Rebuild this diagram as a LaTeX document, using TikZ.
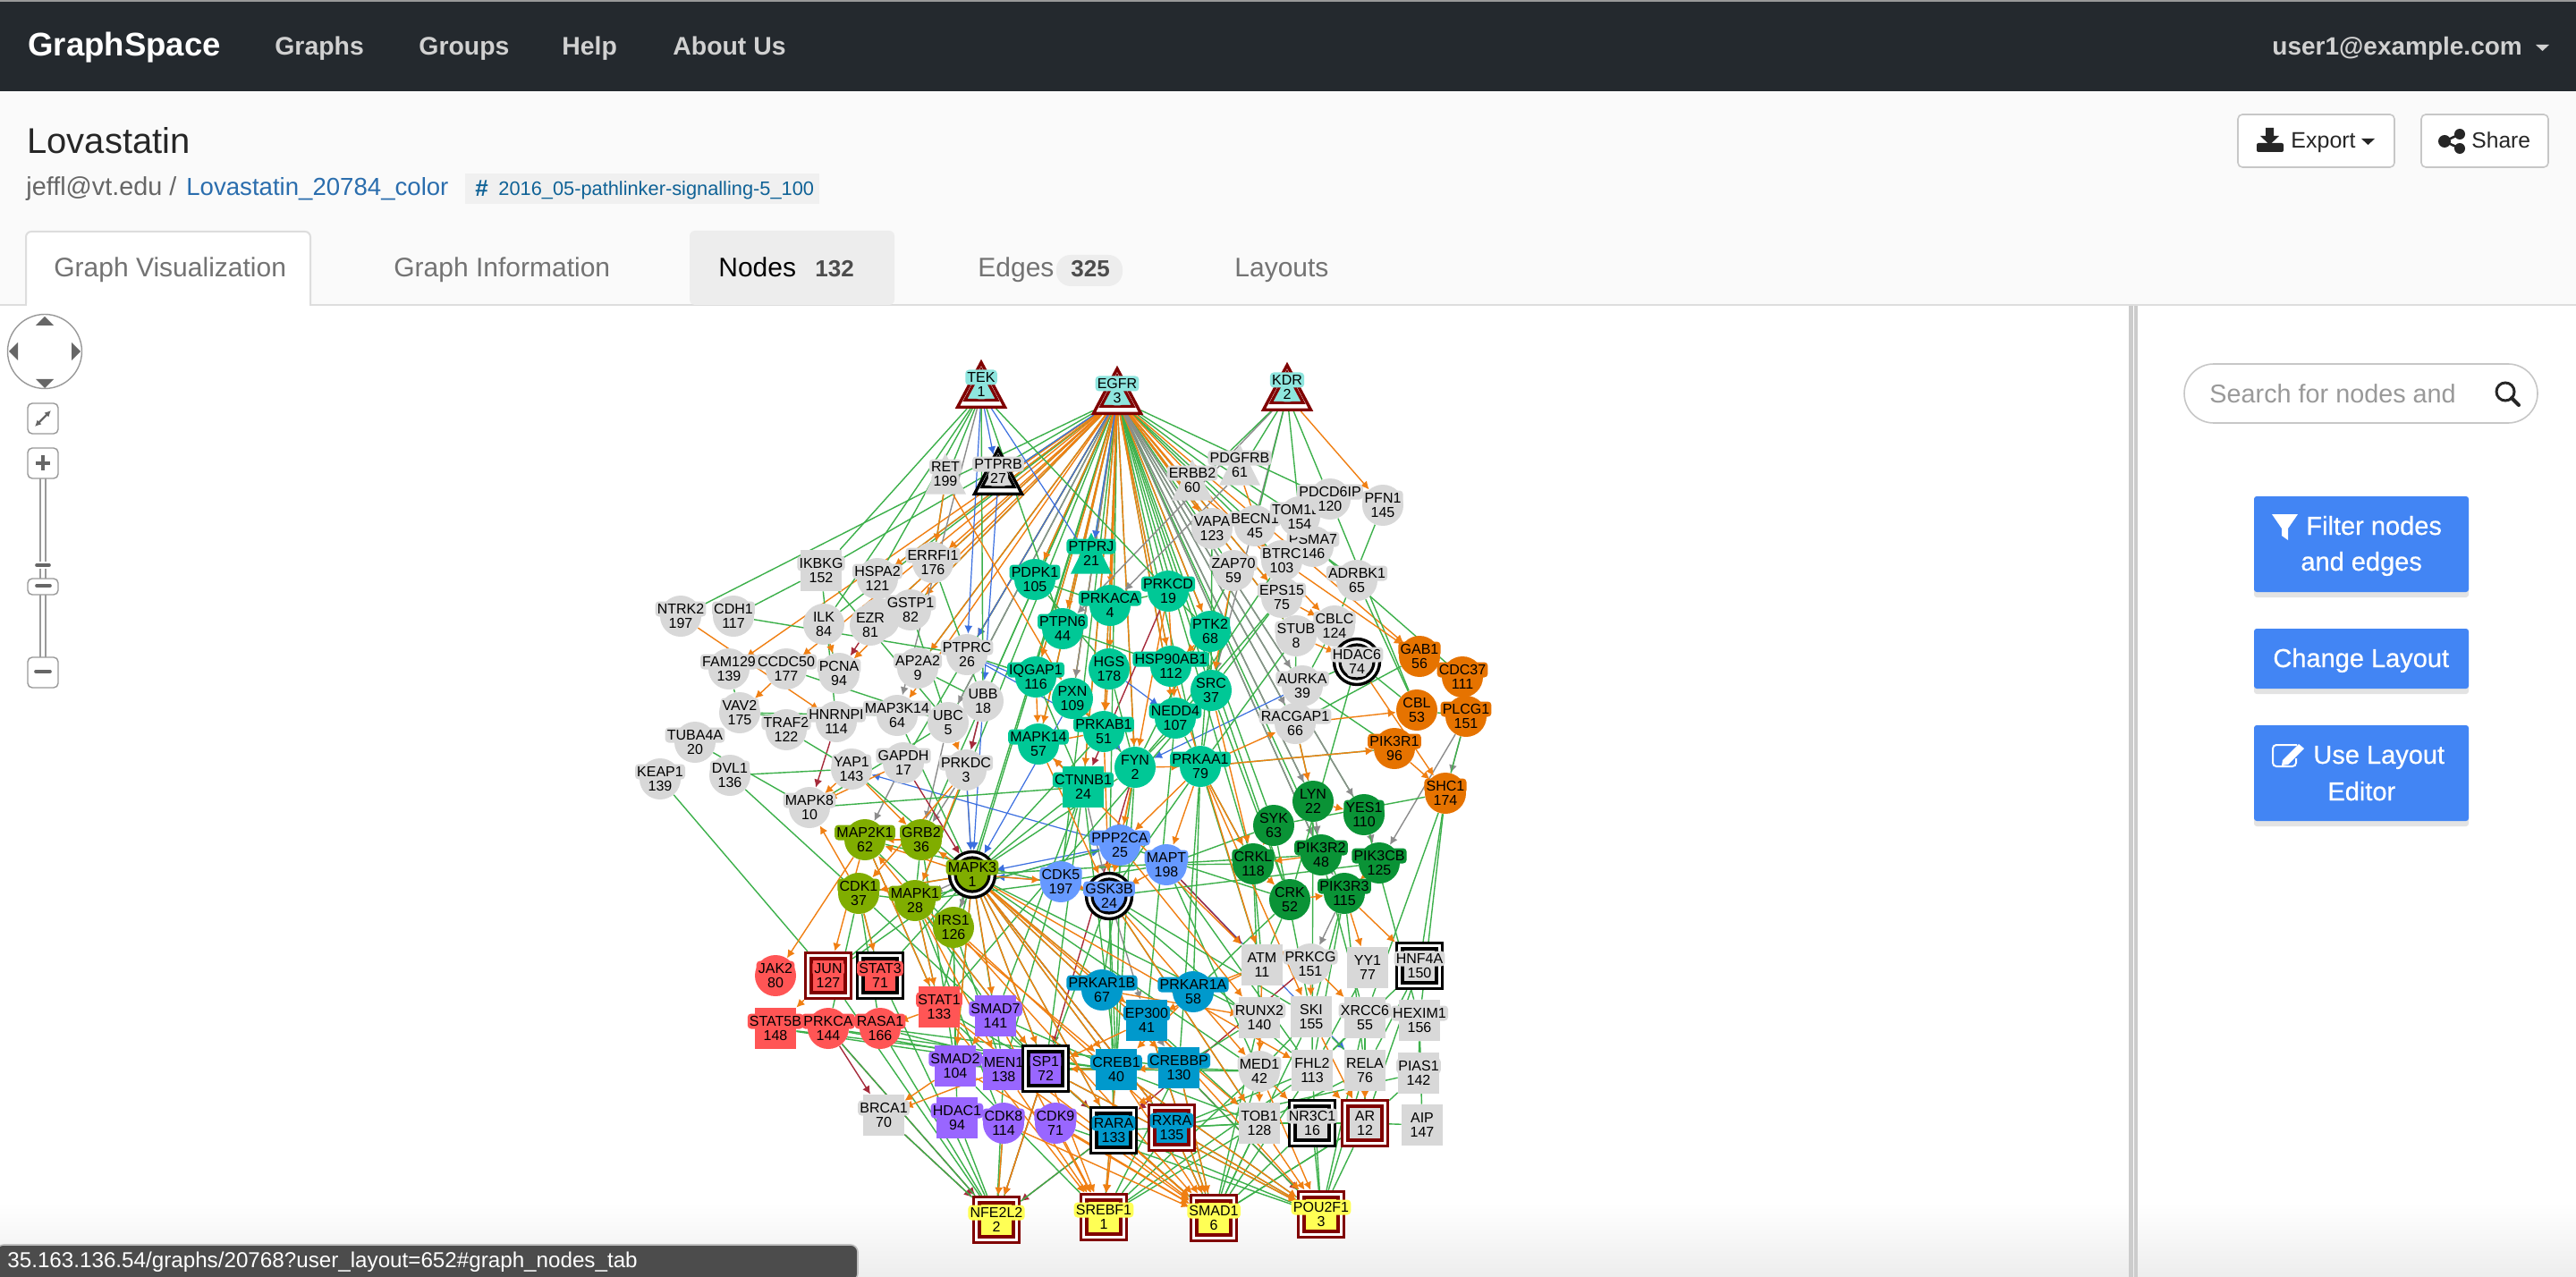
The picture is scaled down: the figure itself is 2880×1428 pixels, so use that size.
\documentclass[tikz,border=0pt]{standalone}
\usepackage{fontspec}
\setmainfont{Liberation Sans}
\newfontfamily\medf[FakeBold=0.6]{Liberation Sans}
\usetikzlibrary{shadows,arrows.meta,shapes.geometric}
\pgfdeclarelayer{bg}
\pgfdeclarelayer{edges}
\pgfsetlayers{bg,edges,main}

\definecolor{navbar}{HTML}{24292E}
\definecolor{pagehead}{HTML}{FAFAFA}
\definecolor{rulegray}{HTML}{DDDDDD}
\definecolor{btnblue}{HTML}{4285F4}
\definecolor{linkblue}{HTML}{2A6DAD}
\definecolor{tagblue}{HTML}{0F6296}
\definecolor{ctlgray}{HTML}{999999}
\definecolor{ctldark}{HTML}{666666}
\definecolor{ngray}{HTML}{D8D8D8}
\definecolor{nrecep}{HTML}{8EE5DE}
\definecolor{nteal}{HTML}{00C896}
\definecolor{ndgreen}{HTML}{0A9336}
\definecolor{nolive}{HTML}{80AD00}
\definecolor{nperi}{HTML}{6699FF}
\definecolor{ncyan}{HTML}{0099CC}
\definecolor{nred}{HTML}{FF5555}
\definecolor{npurple}{HTML}{9966FF}
\definecolor{norange}{HTML}{E67300}
\definecolor{nyellow}{HTML}{FFFF55}
\definecolor{frred}{HTML}{800000}
\definecolor{egreen}{HTML}{3CB04A}
\definecolor{eorange}{HTML}{F07F12}
\definecolor{eblue}{HTML}{3B6FE0}
\definecolor{egray}{HTML}{8C8C8C}
\definecolor{ebrown}{HTML}{A52A3A}

\tikzset{
  gcirc/.style={circle,minimum size=23pt,inner sep=0pt},
  gsq/.style={rectangle,minimum size=23pt,inner sep=0pt},
  gtri/.style={isosceles triangle,isosceles triangle stretches,shape border rotate=90,
    minimum width=23pt,minimum height=23pt,inner sep=0pt,anchor=lower side,yshift=-11.5pt},
  gcircout/.style={circle,minimum size=25.5pt,inner sep=0pt,line width=1.7pt,fill=white},
  gcircin/.style={circle,minimum size=19pt,inner sep=0pt,line width=1.6pt},
  gsqout/.style={rectangle,minimum size=25.5pt,inner sep=0pt,line width=1.7pt,fill=white},
  gsqin/.style={rectangle,minimum size=19pt,inner sep=0pt,line width=1.6pt},
  gtriout/.style={isosceles triangle,isosceles triangle stretches,shape border rotate=90,
    minimum width=26.5pt,minimum height=25pt,inner sep=0pt,line width=1.7pt,fill=white,
    anchor=lower side,yshift=-13.5pt},
  gtriin/.style={isosceles triangle,isosceles triangle stretches,shape border rotate=90,
    minimum width=18pt,minimum height=17pt,inner sep=0pt,line width=1.6pt,
    anchor=lower side,yshift=-9.5pt},
  lbl/.style={inner sep=1.1pt,rounded corners=2pt,font=\fontsize{8}{9}\selectfont,text=black,
    text height=6pt,text depth=0.3pt},
  eg/.style={egreen,line width=0.7pt},
  eo/.style={eorange,line width=0.7pt,-{Latex[length=4.5pt,width=4.5pt]}},
  eb/.style={eblue,line width=0.6pt,-{Latex[length=4.5pt,width=4.5pt]}},
  ey/.style={egray,line width=0.7pt,-{Latex[length=4.5pt,width=4.5pt]}},
  er/.style={ebrown,line width=0.7pt,-{Latex[length=4.5pt,width=4.5pt]}},
  ui/.style={inner sep=0pt,anchor=base west},
  ctl/.style={draw=ctlgray,line width=0.7pt,rounded corners=2.5pt,fill=white},
  bluebtn/.style={fill=btnblue,rounded corners=1.5pt,
    drop shadow={opacity=0.22,shadow xshift=0pt,shadow yshift=-3pt}},
}

% plain node: style, name, x, y, colour, label, number
\newcommand{\gnode}[7]{
  \node[#1,fill=#5] (#2) at (#3,#4) {};
  \node[lbl,fill=#5,yshift=4pt] (#2-a) at (#3,#4) {#6};
  \node[lbl,fill=#5,yshift=-4pt] (#2-b) at (#3,#4) {#7};
}
% framed node: shape, name, x, y, colour, frame colour, label, number
\newcommand{\gframe}[8]{
  \node[#1out,draw=#6] (#2) at (#3,#4) {};
  \node[#1in,draw=#6,fill=#5] (#2-i) at (#3,#4) {};
  \node[lbl,fill=#5,yshift=4pt] (#2-a) at (#3,#4) {#7};
  \node[lbl,fill=#5,yshift=-4pt] (#2-b) at (#3,#4) {#8};
}

\begin{document}
\begin{tikzpicture}[x=0.5pt,y=-0.5pt]
  \useasboundingbox (0,0) rectangle (2880,1428);

  \begin{pgfonlayer}{bg}
    \fill[white] (0,0) rectangle (2880,1428);
    \fill[ctlgray] (0,0) rectangle (2880,2);
    \fill[navbar] (0,2) rectangle (2880,102);
    \fill[pagehead] (0,102) rectangle (2880,341);
    \fill[rulegray] (0,340) rectangle (2880,342);
    \shade[top color=white,bottom color=black!7] (0,1345) rectangle (2880,1428);
  \end{pgfonlayer}

  % top bar
  \node[ui,text=white,font=\fontsize{18.3}{20}\bfseries\selectfont] (brand) at (31,63) {GraphSpace};
  \foreach \n/\x/\t in {navg/307/Graphs, navr/468/Groups, navh/628/Help, nava/752/About Us}
    \node[ui,text=black!18,font=\fontsize{14.2}{17}\bfseries\selectfont] (\n) at (\x,62) {\t};
  \node[ui,text=black!18,font=\fontsize{14}{17}\bfseries\selectfont] (user) at (2540,62) {user1@example.com};
  \fill[black!18] (2835,50) -- (2850,50) -- (2842.5,57) -- cycle;

  % page head
  \node[ui,text=black!85,font=\fontsize{20}{24}\selectfont] (title) at (30,172) {Lovastatin};
  \node[ui,text=black!60,font=\fontsize{14.4}{17}\selectfont] (owner) at (29,219) {jeffl@vt.edu /};
  \node[ui,text=linkblue,font=\fontsize{13.8}{17}\selectfont] (gname) at (208,219) {Lovastatin\_20784\_color};
  \fill[black!6] (520,194) rectangle (916,228);
  \node[ui,text=tagblue,font=\fontsize{13}{13}\bfseries\selectfont] (hash) at (531,220) {\#};
  \node[ui,text=tagblue,font=\fontsize{10.9}{13}\selectfont] (tag) at (557,219) {2016\_05-pathlinker-signalling-5\_100};

  % tabs
  \filldraw[fill=white,draw=rulegray,line width=1pt,rounded corners=3pt] (29,342) -- (29,259) -- (347,259) -- (347,342);
  \fill[white] (30,339) rectangle (346,344);
  \fill[black!7,rounded corners=3pt] (771,341) -- (771,258) -- (1000,258) -- (1000,341) -- cycle;
  \fill[black!7,rounded corners=8pt] (1181,285) rectangle (1255,320);
  \foreach \n/\x/\t in {tabv/60/Graph Visualization, tabi/440/Graph Information, tabe/1093/Edges, tabl/1380/Layouts}
    \node[ui,text=black!55,font=\fontsize{15}{18}\selectfont] (\n) at (\x,310) {\t};
  \node[ui,text=black,font=\fontsize{15}{18}\selectfont] (tabn) at (803,310) {Nodes};
  \node[ui,text=black!70,font=\fontsize{13}{18}\bfseries\selectfont] (tabc) at (911,310) {132};
  \node[ui,text=black!70,font=\fontsize{13}{18}\bfseries\selectfont] (tabd) at (1197,310) {325};

  % export and share
  \filldraw[fill=white,draw=black!22,line width=0.8pt,rounded corners=2.5pt] (2502,128) rectangle (2677,187);
  \filldraw[fill=white,draw=black!22,line width=0.8pt,rounded corners=2.5pt] (2707,128) rectangle (2849,187);
  \node[ui,text=black!85,font=\fontsize{12.5}{15}\selectfont] (export) at (2561,166) {Export};
  \node[ui,text=black!85,font=\fontsize{12.3}{15}\selectfont] (share) at (2763,166) {Share};
  \fill[black!85] (2640,155) -- (2655,155) -- (2647.5,162) -- cycle;
  \fill[black!85] (2533,143) -- (2542,143) -- (2542,152) -- (2548,152) -- (2537.5,162) -- (2527,152) -- (2533,152) -- cycle;
  \fill[black!85,rounded corners=1pt] (2523,160) rectangle (2553,170);
  \draw[black!85,line width=1.3pt] (2733,158) -- (2750,150) (2733,158) -- (2750,166);
  \fill[black!85] (2733,158) circle (7) (2750,150) circle (6) (2750,166) circle (6);

  % side panel
  \fill[black!20] (2380,342) rectangle (2385,1428);
  \fill[black!20] (2386,342) rectangle (2390,1428);
  \draw[black!22,line width=0.8pt,rounded corners=16.5pt,fill=white] (2442,407) rectangle (2837,473);
  \node[ui,text=black!40,font=\fontsize{14.4}{17}\selectfont] (search) at (2470,451) {Search for nodes and};
  \draw[black!85,line width=1.5pt] (2801,438) circle (10);
  \draw[black!85,line width=2pt,line cap=round] (2808,445) -- (2816,453);

  \path[bluebtn] (2520,555) rectangle (2760,662);
  \path[bluebtn] (2520,703) rectangle (2760,770);
  \path[bluebtn] (2520,811) rectangle (2760,918);
  \foreach \n/\x/\y/\t in {bfa/2578/598/Filter nodes, bfb/2572/638/and edges, bch/2541/746/Change Layout,
      bua/2586/854/Use Layout, bub/2602/895/Editor}
    \node[ui,text=white,font=\fontsize{14.5}{17}\medf\selectfont] (\n) at (\x,\y) {\t};
  \fill[white] (2540,575) -- (2569,575) -- (2558,591) -- (2558,604) -- (2551,599) -- (2551,591) -- cycle;
  \draw[white,line width=1pt,rounded corners=2pt] (2568,833) -- (2541,833) -- (2541,857) -- (2567,857) -- (2567,848);
  \fill[white] (2552,850) -- (2570,832) -- (2576,837) -- (2558,855) -- (2551,856) -- cycle;

  % pan and zoom control
  \draw[ctl,rounded corners=0pt] (50,393) circle (41.5);
  \fill[ctldark] (50,354) -- (60,364) -- (40,364) -- cycle;
  \fill[ctldark] (50,434) -- (60,424) -- (40,424) -- cycle;
  \fill[ctldark] (10,393) -- (20,383) -- (20,403) -- cycle;
  \fill[ctldark] (90,393) -- (80,383) -- (80,403) -- cycle;
  \draw[ctlgray,line width=0.7pt] (45,535) -- (45,735) (51,535) -- (51,735);
  \draw[ctl] (31,451) rectangle (65,485);
  \draw[ctl] (31,501) rectangle (65,535);
  \draw[ctl] (31,647) rectangle (65,665);
  \draw[ctl] (31,735) rectangle (65,769);
  \fill[white] (43,628) rectangle (53,636);
  \draw[ctldark,line width=1.2pt,{Latex[length=3.5pt,width=3.5pt]}-{Latex[length=3.5pt,width=3.5pt]}] (39,477) -- (57,459);
  \draw[ctldark,line width=2pt] (40,517.5) -- (56,517.5) (48,509) -- (48,526);
  \draw[ctldark,line width=1.8pt,line cap=round] (41,632) -- (55,632) (41,655) -- (56,655) (40,751) -- (56,751);

  % gray nodes, upper half
  \gnode{gtri}{ret}{1057}{530}{ngray}{RET}{199}
  \gframe{gtri}{ptprb}{1116}{527}{ngray}{black}{PTPRB}{27}
  \gnode{gsq}{ikbkg}{918}{638}{ngray}{IKBKG}{152}
  \gnode{gtri}{pdgfrb}{1386}{520}{ngray}{PDGFRB}{61}
  \gnode{gtri}{erbb2}{1333}{537}{ngray}{ERBB2}{60}
  \node[gcirc,fill=ngray] (hidn) at (983,692) {};
  \foreach \n/\x/\y/\l/\k in {
      hspa2/981/647/HSPA2/121, errfi1/1043/629/ERRFI1/176, ntrk2/761/689/NTRK2/197, cdh1/820/689/CDH1/117,
      ilk/921/698/ILK/84, gstp1/1018/682/GSTP1/82, ezr/973/699/EZR/81, fam129/815/748/FAM129/139,
      ccdc50/879/748/CCDC50/177, pcna/938/753/PCNA/94, ap2a2/1026/747/AP2A2/9, ptprc/1081/732/PTPRC/26,
      ubb/1099/784/UBB/18, vav2/827/797/VAV2/175, traf2/879/816/TRAF2/122, hnrnpi/935/807/HNRNPI/114,
      map3k14/1003/800/MAP3K14/64, ubc/1060/808/UBC/5, tuba4a/777/830/TUBA4A/20, keap1/738/871/KEAP1/139,
      dvl1/816/867/DVL1/136, yap1/952/860/YAP1/143, gapdh/1010/853/GAPDH/17, prkdc/1080/861/PRKDC/3,
      mapk8/905/903/MAPK8/10, vapa/1355/591/VAPA/123, becn1/1403/588/BECN1/45, psma7/1468/611/PSMA7/146,
      tom1l1/1453/578/TOM1L1/154, pdcd6ip/1487/558/PDCD6IP/120, pfn1/1546/565/PFN1/145, btrc/1433/627/BTRC/103,
      zap70/1379/638/ZAP70/59, adrbk1/1517/649/ADRBK1/65, eps15/1433/668/EPS15/75, stub/1449/711/STUB/8,
      cblc/1492/700/CBLC/124, aurka/1456/767/AURKA/39, racgap1/1448/809/RACGAP1/66}
    {\gnode{gcirc}{\n}{\x}{\y}{ngray}{\l}{\k}}
  \gframe{gcirc}{hdac6}{1517}{740}{ngray}{black}{HDAC6}{74}

  % receptors
  \gframe{gtri}{tek}{1097}{430}{nrecep}{frred}{TEK}{1}
  \gframe{gtri}{egfr}{1249}{437}{nrecep}{frred}{EGFR}{3}
  \gframe{gtri}{kdr}{1439}{433}{nrecep}{frred}{KDR}{2}

  % teal group
  \gnode{gtri}{ptprj}{1220}{619}{nteal}{PTPRJ}{21}
  \gnode{gsq}{ctnnb1}{1211}{880}{nteal}{CTNNB1}{24}
  \foreach \n/\x/\y/\l/\k in {
      pdpk1/1157/648/PDPK1/105, ptpn6/1188/703/PTPN6/44, iqgap1/1158/757/IQGAP1/116, pxn/1199/781/PXN/109,
      prkcd/1306/661/PRKCD/19, prkaca/1241/677/PRKACA/4, ptk2/1353/706/PTK2/68, hgs/1240/748/HGS/178,
      hsp90ab1/1309/745/HSP90AB1/112, src/1354/772/SRC/37, nedd4/1314/803/NEDD4/107, prkab1/1234/818/PRKAB1/51,
      fyn/1269/858/FYN/2, prkaa1/1342/857/PRKAA1/79, mapk14/1161/832/MAPK14/57}
    {\gnode{gcirc}{\n}{\x}{\y}{nteal}{\l}{\k}}

  % orange group
  \foreach \n/\x/\y/\l/\k in {
      gab1/1587/734/GAB1/56, cdc37/1635/757/CDC37/111, cbl/1584/794/CBL/53, plcg1/1639/801/PLCG1/151,
      pik3r1/1559/837/PIK3R1/96, shc1/1616/887/SHC1/174}
    {\gnode{gcirc}{\n}{\x}{\y}{norange}{\l}{\k}}

  % dark green group
  \foreach \n/\x/\y/\l/\k in {
      lyn/1468/896/LYN/22, yes1/1525/911/YES1/110, syk/1424/923/SYK/63, pik3cb/1542/965/PIK3CB/125,
      pik3r2/1477/956/PIK3R2/48, crkl/1401/966/CRKL/118, crk/1442/1006/CRK/52, pik3r3/1503/999/PIK3R3/115}
    {\gnode{gcirc}{\n}{\x}{\y}{ndgreen}{\l}{\k}}

  % olive group
  \foreach \n/\x/\y/\l/\k in {
      map2k1/967/939/MAP2K1/62, grb2/1030/939/GRB2/36, cdk1/960/999/CDK1/37, mapk1/1023/1007/MAPK1/28,
      irs1/1066/1037/IRS1/126}
    {\gnode{gcirc}{\n}{\x}{\y}{nolive}{\l}{\k}}
  \gframe{gcirc}{mapk3}{1087}{978}{nolive}{black}{MAPK3}{1}

  % periwinkle group
  \foreach \n/\x/\y/\l/\k in {
      ppp2ca/1252/945/PPP2CA/25, mapt/1304/967/MAPT/198, cdk5/1186/986/CDK5/197}
    {\gnode{gcirc}{\n}{\x}{\y}{nperi}{\l}{\k}}
  \gframe{gcirc}{gsk3b}{1240}{1002}{nperi}{black}{GSK3B}{24}

  % red group
  \gnode{gcirc}{jak2}{867}{1091}{nred}{JAK2}{80}
  \gframe{gsq}{jun}{926}{1091}{nred}{frred}{JUN}{127}
  \gframe{gsq}{stat3}{984}{1091}{nred}{black}{STAT3}{71}
  \gnode{gsq}{stat5b}{867}{1150}{nred}{STAT5B}{148}
  \gnode{gcirc}{prkca}{926}{1150}{nred}{PRKCA}{144}
  \gnode{gcirc}{rasa1}{984}{1150}{nred}{RASA1}{166}
  \gnode{gsq}{stat1}{1050}{1126}{nred}{STAT1}{133}

  % purple group
  \gnode{gsq}{smad7}{1113}{1136}{npurple}{SMAD7}{141}
  \gnode{gsq}{smad2}{1068}{1192}{npurple}{SMAD2}{104}
  \gnode{gsq}{men1}{1122}{1196}{npurple}{MEN1}{138}
  \gframe{gsq}{sp1}{1169}{1195}{npurple}{black}{SP1}{72}
  \gnode{gsq}{hdac1}{1070}{1250}{npurple}{HDAC1}{94}
  \gnode{gcirc}{cdk8}{1122}{1256}{npurple}{CDK8}{114}
  \gnode{gcirc}{cdk9}{1180}{1256}{npurple}{CDK9}{71}

  % cyan group
  \gnode{gcirc}{prkar1b}{1232}{1107}{ncyan}{PRKAR1B}{67}
  \gnode{gsq}{ep300}{1282}{1141}{ncyan}{EP300}{41}
  \gnode{gcirc}{prkar1a}{1334}{1109}{ncyan}{PRKAR1A}{58}
  \gnode{gsq}{creb1}{1248}{1196}{ncyan}{CREB1}{40}
  \gnode{gsq}{crebbp}{1318}{1194}{ncyan}{CREBBP}{130}
  \gframe{gsq}{rara}{1245}{1264}{ncyan}{black}{RARA}{133}
  \gframe{gsq}{rxra}{1310}{1261}{ncyan}{frred}{RXRA}{135}

  % gray nodes, lower half
  \gnode{gsq}{brca1}{988}{1247}{ngray}{BRCA1}{70}
  \gnode{gcirc}{prkcg}{1465}{1078}{ngray}{PRKCG}{151}
  \gnode{gcirc}{med1}{1408}{1198}{ngray}{MED1}{42}
  \foreach \n/\x/\y/\l/\k in {
      atm/1411/1079/ATM/11, yy1/1529/1082/YY1/77, runx2/1408/1138/RUNX2/140, ski/1466/1137/SKI/155,
      xrcc6/1526/1138/XRCC6/55, hexim1/1587/1141/HEXIM1/156, fhl2/1467/1197/FHL2/113, rela/1526/1197/RELA/76,
      pias1/1586/1200/PIAS1/142, tob1/1408/1256/TOB1/128, aip/1590/1258/AIP/147}
    {\gnode{gsq}{\n}{\x}{\y}{ngray}{\l}{\k}}
  \gframe{gsq}{hnf4a}{1587}{1080}{ngray}{black}{HNF4A}{150}
  \gframe{gsq}{nr3c1}{1467}{1256}{ngray}{black}{NR3C1}{16}
  \gframe{gsq}{ar}{1526}{1256}{ngray}{frred}{AR}{12}

  % targets
  \gframe{gsq}{nfe2l2}{1114}{1364}{nyellow}{frred}{NFE2L2}{2}
  \gframe{gsq}{srebf1}{1234}{1361}{nyellow}{frred}{SREBF1}{1}
  \gframe{gsq}{smad1}{1357}{1362}{nyellow}{frred}{SMAD1}{6}
  \gframe{gsq}{pou2f1}{1477}{1358}{nyellow}{frred}{POU2F1}{3}

  % edges
  \begin{pgfonlayer}{edges}
    \foreach \a in {ret,ptprb,ikbkg,hspa2,ilk,ezr,gstp1,ap2a2,ptprc,ubb,ubc,gapdh,pdpk1,ptpn6,ptprj,iqgap1,pxn,
        prkaca,prkcd,hgs,hsp90ab1,ptk2,src,nedd4,prkab1,fyn,prkaa1,mapk14,ctnnb1,zap70,vapa,becn1,eps15,stub,
        aurka,racgap1,btrc,adrbk1,pdcd6ip,tom1l1,lyn,syk,crkl,yes1,pik3r2,pik3r3,crk,grb2,mapk1,mapk3,irs1,cdk5,gsk3b}
      \draw[eg] (egfr) -- (\a);
    \foreach \a in {errfi1,gstp1,fam129,ccdc50,pcna,ezr,hspa2,ptprc,ap2a2,pdpk1,ptpn6,iqgap1,pxn,hgs,prkab1,fyn,
        ptk2,nedd4,eps15,cblc,stub,gab1,mapk14,ctnnb1,prkaca,map3k14,hsp90ab1,erbb2,vapa}
      \draw[eo] (egfr) -- (\a);
    \foreach \a/\b in {egfr/yes1,egfr/lyn,egfr/pik3r2,egfr/racgap1,egfr/pxn,egfr/ubc,egfr/aurka,
        tek/map3k14,kdr/ptpn6,kdr/src,pdgfrb/prkaca,gapdh/map2k1,ubc/grb2,prkdc/grb2,ubb/prkdc,prkdc/mapk3,
        mapk3/mapk1,mapk3/irs1,ctnnb1/gsk3b,gsk3b/ep300,ep300/crebbp,lyn/pik3r2,yes1/pik3cb,plcg1/pik3cb,
        plcg1/shc1,pik3r2/pik3r3,pik3r3/prkcg}
      \draw[ey] (\a) -- (\b);
    \foreach \a/\b in {tek/ptprb,tek/ptprc,tek/ptprj,egfr/ptprj,egfr/ptprc,egfr/ptprb,ptprb/ubb,ptprc/pxn,
        hgs/nedd4,prkab1/fyn,aurka/fyn,ppp2ca/yap1,ppp2ca/mapk3,mapk1/ppp2ca,mapt/rela,ubb/mapk3,prkdc/mapk3,
        pxn/mapk3,cdk5/mapk3,ptprc/prkab1}
      \draw[eb] (\a) -- (\b);
    \foreach \a/\b in {ezr/pcna,hnrnpi/mapk8,ubb/prkdc,gapdh/mapk3,ctnnb1/mapk14,prkcd/ctnnb1,fyn/sp1,mapk3/rxra,
        mapt/atm,prkcg/rara,rara/nfe2l2,prkca/brca1,brca1/nfe2l2,prkca/nfe2l2,sp1/nfe2l2,crebbp/pou2f1,sp1/rara}
      \draw[er] (\a) -- (\b);
    \foreach \a/\b in {tek/ikbkg,tek/ret,tek/hspa2,tek/ilk,tek/ubb,tek/ptpn6,tek/prkcd,ntrk2/ret,cdh1/ikbkg,cdh1/ptprc,
        ret/errfi1,ikbkg/ubc,ilk/pcna,errfi1/ubb,ptprc/iqgap1,ap2a2/ubb,fam129/vav2,vav2/hnrnpi,traf2/yap1,hnrnpi/ikbkg,
        vav2/map3k14,ccdc50/ubc,gstp1/ubc,kdr/pdgfrb,kdr/becn1,kdr/tom1l1,kdr/pdcd6ip,kdr/erbb2,pdcd6ip/cbl,pfn1/cblc,
        adrbk1/cbl,psma7/cdc37,cblc/aurka,stub/racgap1,hdac6/aurka,hdac6/crk,aurka/pik3r1,racgap1/lyn,pik3r1/prkaa1,
        cbl/plcg1,plcg1/shc1,shc1/hnf4a,shc1/xrcc6,shc1/hexim1,shc1/syk,hdac6/cbl,gab1/racgap1,tuba4a/mapk8,dvl1/cdk1,
        dvl1/yap1,keap1/jun,mapk8/ctnnb1,yap1/mapk3,map3k14/mapk3,ubc/mapk8,map2k1/irs1,grb2/mapk1,cdk1/mapk3,
        cdk1/mapk1,grb2/mapk3,map2k1/gsk3b,zap70/fyn,zap70/prkaa1,eps15/src,eps15/fyn,stub/prkaa1,btrc/nedd4,vapa/src,
        prkcd/ptk2,prkaca/prkcd,pdpk1/prkaca,pdpk1/hgs,ptpn6/hsp90ab1,hgs/fyn,ptk2/prkaa1,src/fyn,nedd4/prkaa1,
        iqgap1/ctnnb1,pxn/fyn,mapk14/ctnnb1,prkab1/mapk3,ctnnb1/mapk3,fyn/mapk3,prkaa1/gsk3b,ppp2ca/mapk1,cdk5/mapk1,
        mapt/cdk5,prkaa1/crkl,src/crk,syk/mapt,crkl/mapt,crk/ppp2ca,pik3r2/mapk3,pik3cb/gsk3b,ctnnb1/sp1,ctnnb1/men1,
        ctnnb1/smad7,ctnnb1/creb1,gsk3b/creb1,gsk3b/sp1,gsk3b/rara,mapk3/sp1,mapk3/men1,mapk3/smad2,mapk3/stat1,mapk3/stat3,
        mapk3/jun,mapk3/creb1,mapk3/ep300,mapk3/rxra,mapk3/rara,mapk3/crebbp,mapk3/runx2,mapk3/med1,mapk1/jun,mapk1/stat1,
        mapk1/smad7,mapk1/sp1,mapk1/cdk8,cdk1/stat3,cdk1/rasa1,cdk1/prkca,cdk1/sp1,map2k1/stat1,grb2/smad2,src/stat1,
        fyn/prkar1b,fyn/creb1,nedd4/ep300,prkaa1/crebbp,prkaa1/prkar1a,crk/prkar1a,crk/atm,crkl/runx2,crkl/atm,syk/ski,
        lyn/fhl2,pik3r3/fhl2,pik3r3/ski,pik3r3/rela,pik3r2/xrcc6,yes1/hexim1,prkaa1/atm,ppp2ca/creb1,mapt/fhl2,mapt/med1,
        irs1/smad2,irs1/men1,irs1/hdac1,gsk3b/ski,gsk3b/tob1,gsk3b/fhl2,stat5b/sp1,prkca/sp1,rasa1/sp1,stat5b/creb1,
        prkca/creb1,rasa1/crebbp,jun/nfe2l2,stat3/nfe2l2,stat1/men1,stat1/sp1,smad7/sp1,smad7/creb1,smad2/sp1,men1/creb1,
        sp1/creb1,sp1/crebbp,sp1/rara,creb1/med1,crebbp/med1,ep300/tob1,creb1/tob1,rara/tob1,rxra/tob1,tob1/nr3c1,nr3c1/ar,
        aip/ar,pias1/ar,xrcc6/ar,xrcc6/fhl2,yy1/fhl2,hnf4a/rela,hnf4a/fhl2,hnf4a/ar,hexim1/aip,hexim1/pias1,ski/rela,ski/med1,
        runx2/med1,runx2/crebbp,fhl2/rxra,rela/tob1,pias1/rxra,
        prkca/nfe2l2,rasa1/nfe2l2,brca1/nfe2l2,cdk8/nfe2l2,hdac1/nfe2l2,men1/nfe2l2,sp1/nfe2l2,rara/nfe2l2,
        creb1/srebf1,crebbp/srebf1,rxra/srebf1,med1/srebf1,tob1/srebf1,fhl2/srebf1,smad2/srebf1,
        rara/smad1,rxra/smad1,crebbp/smad1,med1/smad1,tob1/smad1,fhl2/smad1,ski/smad1,ar/smad1,nr3c1/smad1,runx2/smad1,
        ep300/smad1,sp1/smad1,rara/pou2f1,rxra/pou2f1,crebbp/pou2f1,cdk9/pou2f1,creb1/pou2f1,sp1/pou2f1,ar/pou2f1,
        nr3c1/pou2f1,rela/pou2f1,fhl2/pou2f1,xrcc6/pou2f1,smad1/ar}
      \draw[eg] (\a) -- (\b);
    \foreach \a/\b in {kdr/pfn1,ret/errfi1,ret/pxn,ntrk2/hnrnpi,ilk/pcna,ccdc50/vav2,btrc/gab1,eps15/cblc,racgap1/cbl,
        cdc37/plcg1,pik3r1/shc1,hdac6/shc1,prkaa1/pik3r1,prkaa1/racgap1,stub/hdac6,aurka/racgap1,erbb2/btrc,pdgfrb/eps15,
        zap70/src,ptk2/hsp90ab1,prkcd/fyn,prkcd/nedd4,hgs/prkab1,iqgap1/mapk14,pxn/prkab1,prkab1/mapk14,fyn/prkaa1,
        ctnnb1/mapk14,fyn/ppp2ca,fyn/gsk3b,mapk14/gsk3b,prkab1/gsk3b,prkaa1/ppp2ca,prkaa1/mapt,yap1/mapk8,gapdh/mapk8,
        ubc/prkdc,cdk1/mapk8,yap1/grb2,grb2/map2k1,prkdc/mapk1,prkdc/cdk1,mapk3/cdk1,mapk3/map2k1,mapk1/map2k1,mapk3/grb2,
        map2k1/jak2,map2k1/jun,cdk1/stat3,mapk1/stat1,jun/stat5b,stat1/rasa1,map2k1/stat1,smad2/brca1,men1/brca1,
        smad7/smad2,mapk3/cdk5,cdk5/gsk3b,gsk3b/cdk5,ppp2ca/gsk3b,mapt/gsk3b,lyn/yes1,racgap1/lyn,crk/pik3r3,pik3r2/crkl,
        crkl/crk,pik3cb/pik3r3,syk/crkl,prkaa1/crkl,hsp90ab1/atm,src/crkl,mapk14/atm,pik3r3/yy1,pik3r3/hnf4a,prkaa1/ski,
        prkcg/ski,prkcg/xrcc6,atm/prkar1a,atm/ep300,ppp2ca/runx2,gsk3b/med1,gsk3b/tob1,mapk3/creb1,mapk3/crebbp,mapk3/tob1,
        mapk3/sp1,mapk3/rara,mapk3/rxra,mapk3/ep300,mapk3/smad7,mapk3/smad2,mapk3/fhl2,mapk1/men1,mapk1/creb1,mapk1/sp1,
        irs1/rxra,irs1/smad1,prkar1b/runx2,prkar1a/creb1,creb1/sp1,ep300/sp1,crebbp/creb1,runx2/tob1,atm/med1,med1/nr3c1,
        fhl2/ar,ski/ar,rela/ar,sp1/nfe2l2,cdk8/nfe2l2,men1/srebf1,cdk9/srebf1,rara/srebf1,sp1/srebf1,creb1/srebf1,
        stat1/srebf1,smad7/srebf1,smad2/smad1,cdk8/smad1,sp1/smad1,cdk9/smad1,creb1/smad1,rara/smad1,crebbp/smad1,rxra/smad1,
        ep300/smad1,men1/smad1,tob1/pou2f1,med1/pou2f1,rxra/pou2f1,creb1/pou2f1,sp1/pou2f1,ep300/pou2f1,stat1/smad1}
      \draw[eo] (\a) -- (\b);
  \end{pgfonlayer}

  % status bar
  \filldraw[fill=black!70,draw=black!25,line width=0.8pt,rounded corners=4pt] (-4,1432) -- (-4,1392) -- (959,1392) -- (959,1432) -- cycle;
  \node[ui,text=white,font=\fontsize{12.1}{14}\selectfont] (status) at (8,1417) {35.163.136.54/graphs/20768?user\_layout=652\#graph\_nodes\_tab};
\end{tikzpicture}
\end{document}
